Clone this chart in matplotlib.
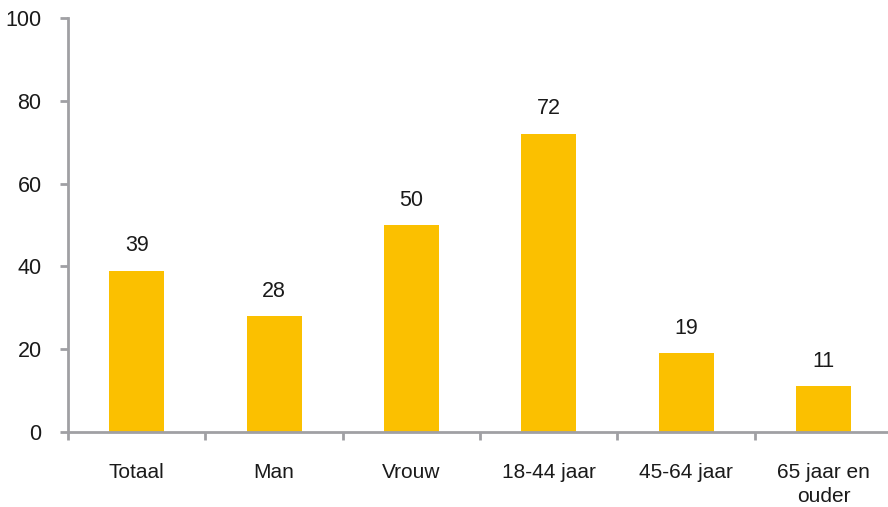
import matplotlib
matplotlib.use("Agg")
import matplotlib.pyplot as plt
from matplotlib import font_manager

categories = ["Totaal", "Man", "Vrouw", "18-44 jaar", "45-64 jaar", "65 jaar en\nouder"]
values = [39, 28, 50, 72, 19, 11]

names = {f.name for f in font_manager.fontManager.ttflist}
font = "Liberation Sans Narrow" if "Liberation Sans Narrow" in names else "Liberation Sans"
plt.rcParams["font.family"] = [font, "DejaVu Sans"]

bar_color = "#FBC000"
axis_color = "#A0A0A4"
text_color = "#1a1a1a"

fig = plt.figure(figsize=(8.88, 5.07), dpi=100)
ax = fig.add_axes([68 / 888, 75 / 507, 1 - 68 / 888, 414 / 507])

x = list(range(len(categories)))
ax.bar(x, values, width=0.4, color=bar_color, zorder=2)
for xi, v in zip(x, values):
    ax.text(xi, v + 3.5, str(v), ha="center", va="bottom", fontsize=15.5, color=text_color)

ax.set_xlim(-0.5, 5.47)
ax.set_ylim(0, 100)
ax.set_yticks(range(0, 101, 20))

# category labels in the middle, tick marks on the boundaries
ax.set_xticks(x)
ax.set_xticklabels(categories, fontsize=15, color=text_color, linespacing=1.35)
ax.set_xticks([i - 0.5 for i in range(len(categories))], minor=True)
ax.tick_params(axis="x", which="major", length=0, pad=22)
ax.tick_params(axis="x", which="minor", length=6, width=2, color=axis_color, direction="out")
ax.tick_params(axis="y", length=6, width=2, color=axis_color, labelsize=15.5,
               labelcolor=text_color, pad=13)

for side in ["top", "right"]:
    ax.spines[side].set_visible(False)
for side in ["left", "bottom"]:
    ax.spines[side].set_color(axis_color)
    ax.spines[side].set_linewidth(2)

fig.savefig("out.png", dpi=100)
